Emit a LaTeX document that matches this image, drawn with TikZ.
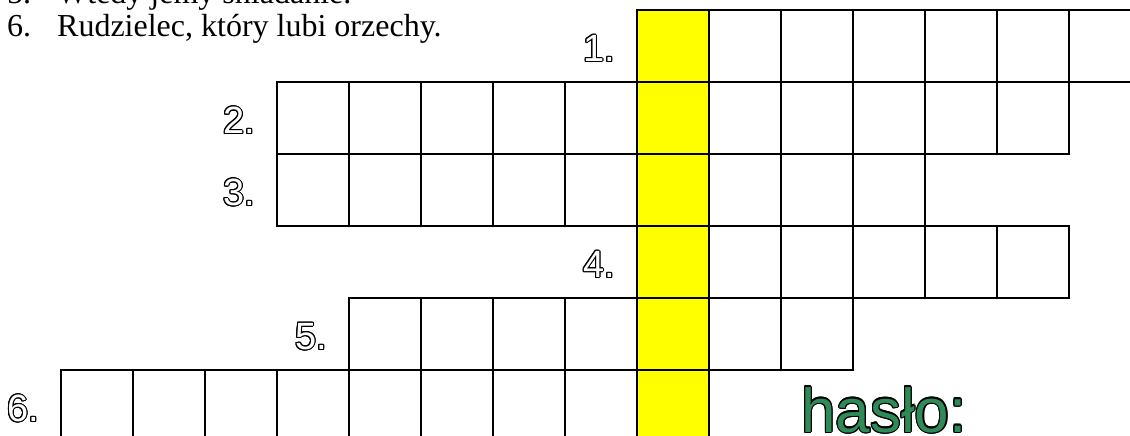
\documentclass[tikz,border=0pt]{standalone}
\usepackage{fontspec}
\setmainfont{Liberation Serif}
\newfontfamily\arialfont{Liberation Sans}
\usepackage[copies]{contour}
\usetikzlibrary{positioning}
\definecolor{keyYellow}{HTML}{FFFF00}
\definecolor{hasloGreen}{HTML}{2E8B57}

\begin{document}
\begin{tikzpicture}[
    x=1pt, y=-1pt,
    cell/.style={draw=black, line width=1.7pt, minimum size=72pt, inner sep=0pt, outer sep=0pt},
    keycell/.style={cell, fill=keyYellow},
    num/.style={inner sep=0pt, yshift=-3pt, font=\arialfont\fontsize{38}{38}\selectfont},
    clue/.style={anchor=base west, inner sep=0pt, font=\fontsize{32}{32}\selectfont}
]
    \useasboundingbox (0,0) rectangle (1130,436);
    \clip (0,0) rectangle (1130,436);
    \contourlength{1.1pt}

    % Clues (top lines, cut off)
    \node[clue] (clue5) at (7,4) {\makebox[50pt][l]{5.}Wtedy jemy śniadanie.};
    \node[clue] (clue6) at (7,37) {\makebox[50pt][l]{6.}Rudzielec, który lubi orzechy.};

    % Rows of the crossword: row/first column/last column
    \foreach \r/\a/\b in {1/8/14, 2/3/13, 3/3/11, 4/8/13, 5/4/10, 6/0/8} {
        \foreach \c in {\a,...,\b} {
            \node[cell] (r\r-\c) at ({97+72*\c},{46+72*(\r-1)}) {};
        }
    }

    % Password column
    \foreach \r in {1,...,6} {
        \node[keycell] (key\r) at (r\r-8) {};
    }

    % Row numbers
    \node[num, left=22pt of r1-8] (n1) {\contour{black}{\color{white}1.}};
    \node[num, left=22pt of r2-3] (n2) {\contour{black}{\color{white}2.}};
    \node[num, left=22pt of r3-3] (n3) {\contour{black}{\color{white}3.}};
    \node[num, left=22pt of r4-8] (n4) {\contour{black}{\color{white}4.}};
    \node[num, left=22pt of r5-4] (n5) {\contour{black}{\color{white}5.}};
    \node[num, left=22pt of r6-0] (n6) {\contour{black}{\color{white}6.}};

    % Password label
    \node[anchor=base west, inner sep=0pt, font=\arialfont\fontsize{62}{62}\selectfont] (haslo) at (801,432) {\contour{black}{\color{hasloGreen}hasło:}};
\end{tikzpicture}
\end{document}
